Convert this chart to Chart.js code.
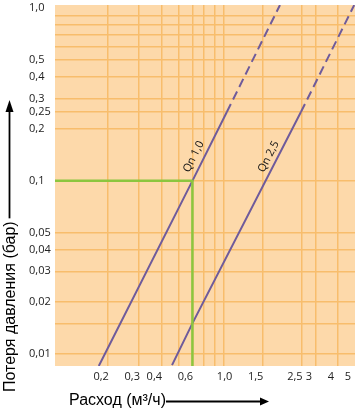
<!DOCTYPE html>
<html><head><meta charset="utf-8">
<script src="https://cdn.jsdelivr.net/npm/chart.js@4"></script>
<style>html,body{margin:0;padding:0;background:#fff}canvas{display:block}</style>
</head><body>
<canvas id="c" width="357" height="408"></canvas>
<script>
// ---- data ----
const xTickValues = [0.2, 0.3, 0.4, 0.6, 1.0, 1.5, 2.5, 3, 4, 5];
const xTickLabels = ['0,2', '0,3', '0,4', '0,6', '1,0', '1,5', '2,5', '3', '4', '5'];
const xGridValues = [0.2, 0.3, 0.4, 0.5, 0.6, 0.7, 0.8, 0.9, 1.5, 2.5, 3, 4];
const yTickValues = [0.01, 0.02, 0.03, 0.04, 0.05, 0.1, 0.2, 0.25, 0.3, 0.4, 0.5, 1.0];
const yTickLabels = ['0,01', '0,02', '0,03', '0,04', '0,05', '0,1', '0,2', '0,25', '0,3', '0,4', '0,5', '1,0'];
const yGridValues = [0.01, 0.015, 0.02, 0.03, 0.04, 0.05, 0.1, 0.2, 0.25, 0.3, 0.4, 0.5, 0.6, 0.7, 0.8, 0.9];

// Qn 1,0 curve (flow m3/h, loss bar)
const qn10Flow = [0.177, 0.6, 0.94];
const qn10Loss = [0.0085, 0.1, 0.25];
const qn10DashFlow = [0.94, 1.88];
const qn10DashLoss = [0.25, 1.04];
// Qn 2,5 curve
const qn25Flow = [0.46, 0.6, 2.47];
const qn25Loss = [0.0086, 0.015, 0.25];
const qn25DashFlow = [2.47, 4.95];
const qn25DashLoss = [0.25, 1.04];
// green reading marker
const markerFlow = [0.1, 0.6, 0.6];
const markerLoss = [0.1, 0.1, 0.0085];

const curveNames = ['Qn 1,0', 'Qn 2,5'];
const xTitle = 'Расход (м³/ч)';
const yTitle = 'Потеря давления (бар)';

// ---- helpers ----
const pts = (xs, ys) => xs.map((x, i) => ({x: x, y: ys[i]}));
const near = (a, b) => Math.abs(a - b) < 1e-9 * Math.max(1, Math.abs(b));
const lookup = (vals, labs, v) => { const i = vals.findIndex(t => near(t, v)); return i >= 0 ? labs[i] : ''; };
const union = (a, b) => Array.from(new Set(a.concat(b))).sort((p, q) => p - q);

const PURPLE = '#6F5B9B';
const GRID = '#F8BD6C';
const BG = '#FDD9AA';

const decor = {
  id: 'decor',
  beforeDraw(chart) {
    const {ctx, chartArea: a} = chart;
    ctx.save();
    ctx.fillStyle = BG;
    ctx.fillRect(a.left, a.top, a.right - a.left, a.bottom - a.top);
    ctx.restore();
  },
  afterDraw(chart) {
    const {ctx} = chart;
    const xs = chart.scales.x, ys = chart.scales.y;
    // curve names along the lines
    const anchors = [{x: 0.61, y: 0.138, f: qn10Flow, l: qn10Loss}, {x: 1.62, y: 0.138, f: qn25Flow, l: qn25Loss}];
    ctx.save();
    ctx.font = '11px "Open Sans"';
    ctx.fillStyle = '#111';
    ctx.textAlign = 'center';
    ctx.textBaseline = 'middle';
    anchors.forEach((an, i) => {
      const n = an.f.length - 1;
      const ang = Math.atan2(ys.getPixelForValue(an.l[n]) - ys.getPixelForValue(an.l[0]),
                             xs.getPixelForValue(an.f[n]) - xs.getPixelForValue(an.f[0]));
      ctx.save();
      ctx.translate(xs.getPixelForValue(an.x), ys.getPixelForValue(an.y));
      ctx.rotate(ang);
      ctx.fillText(curveNames[i], 0, 0);
      ctx.restore();
    });
    ctx.restore();

    // axis titles with arrows
    ctx.save();
    ctx.font = '16px "Liberation Sans"';
    ctx.fillStyle = '#000';
    ctx.strokeStyle = '#000';
    ctx.lineWidth = 1.8;
    ctx.textAlign = 'left';
    ctx.textBaseline = 'alphabetic';
    // x title
    const wx = ctx.measureText(xTitle).width;
    ctx.fillText(xTitle, 69, 405);
    ctx.beginPath();
    ctx.moveTo(69 + wx, 401.5); ctx.lineTo(262, 401.5); ctx.stroke();
    ctx.beginPath();
    ctx.moveTo(269, 401.5); ctx.lineTo(260, 397.5); ctx.lineTo(260, 405.5); ctx.closePath(); ctx.fill();
    // y title
    const wy = ctx.measureText(yTitle).width;
    ctx.save();
    ctx.translate(15, 392);
    ctx.rotate(-Math.PI / 2);
    ctx.fillText(yTitle, 0, 0);
    ctx.restore();
    ctx.beginPath();
    ctx.moveTo(9.5, 392 - wy - 3); ctx.lineTo(9.5, 108); ctx.stroke();
    ctx.beginPath();
    ctx.moveTo(9.5, 100); ctx.lineTo(5.5, 112); ctx.lineTo(13.5, 112); ctx.closePath(); ctx.fill();
    ctx.restore();
  }
};

new Chart(document.getElementById('c'), {
  type: 'line',
  data: {
    datasets: [
      {data: pts(markerFlow, markerLoss), borderColor: '#8CC63F', borderWidth: 2.5},
      {data: pts(qn10Flow, qn10Loss), borderColor: PURPLE, borderWidth: 2},
      {data: pts(qn10DashFlow, qn10DashLoss), borderColor: PURPLE, borderWidth: 2, borderDash: [9, 5]},
      {data: pts(qn25Flow, qn25Loss), borderColor: PURPLE, borderWidth: 2},
      {data: pts(qn25DashFlow, qn25DashLoss), borderColor: PURPLE, borderWidth: 2, borderDash: [9, 5]}
    ]
  },
  options: {
    responsive: false,
    animation: false,
    events: [],
    layout: {padding: {left: 29, top: 5, right: 2, bottom: 0}},
    elements: {point: {radius: 0}, line: {tension: 0, fill: false}},
    plugins: {legend: {display: false}, tooltip: {enabled: false}},
    scales: {
      x: {
        type: 'logarithmic', min: 0.1, max: 5,
        afterBuildTicks: s => { s.ticks = union(xTickValues, xGridValues).map(v => ({value: v})); },
        afterFit: s => { s.height = 42; s.paddingLeft = 0; s.paddingRight = 0; },
        border: {display: false},
        grid: {
          drawTicks: false, lineWidth: 1.5,
          color: c => (c.tick && xGridValues.some(v => near(v, c.tick.value))) ? GRID : 'rgba(0,0,0,0)'
        },
        ticks: {
          autoSkip: false, maxRotation: 0, minRotation: 0, padding: 4, labelOffset: -7,
          color: '#222', font: {family: 'Open Sans', size: 11},
          callback: v => lookup(xTickValues, xTickLabels, v)
        }
      },
      y: {
        type: 'logarithmic', min: 0.0085, max: 1.04, position: 'left',
        afterBuildTicks: s => { s.ticks = union(yTickValues, yGridValues).map(v => ({value: v})); },
        afterFit: s => { s.width = 26; s.paddingTop = 0; s.paddingBottom = 0; },
        border: {display: false},
        grid: {
          drawTicks: false, lineWidth: 1.5,
          color: c => (c.tick && yGridValues.some(v => near(v, c.tick.value))) ? GRID : 'rgba(0,0,0,0)'
        },
        ticks: {
          autoSkip: false, crossAlign: 'far', padding: 4,
          color: '#222', font: {family: 'Open Sans', size: 11},
          callback: v => lookup(yTickValues, yTickLabels, v)
        }
      }
    }
  },
  plugins: [decor]
});
</script>
</body></html>
